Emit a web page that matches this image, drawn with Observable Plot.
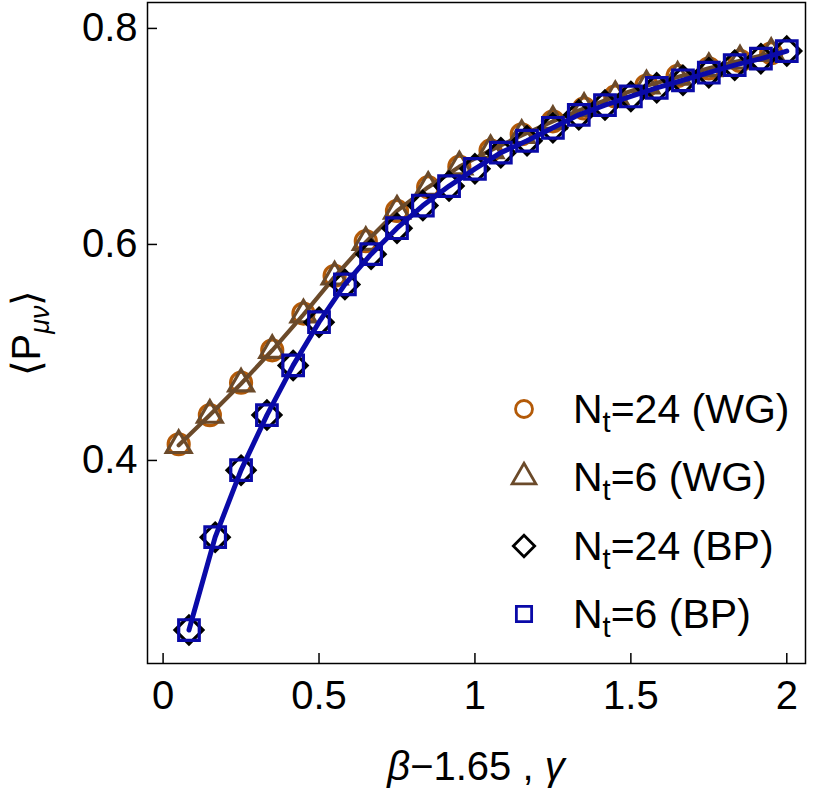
<!DOCTYPE html>
<html>
<head>
<meta charset="utf-8">
<script src="https://cdn.jsdelivr.net/npm/d3@7"></script>
<script src="https://cdn.jsdelivr.net/npm/@observablehq/plot@0.6"></script>
<style>
  html, body { margin: 0; padding: 0; background: #fff; }
  svg { font-family: "Liberation Sans", Arial, sans-serif; }
</style>
</head>
<body>
<div id="chart"></div>
<script>
// ---- data ----
const wgX = [0.05, 0.15, 0.25, 0.35, 0.45, 0.55, 0.65, 0.75, 0.85, 0.95,
             1.05, 1.15, 1.25, 1.35, 1.45, 1.55, 1.65, 1.75, 1.85, 1.95];
const wg24Y = [0.415, 0.442, 0.472, 0.502, 0.536, 0.571, 0.603, 0.631, 0.653, 0.672,
               0.687, 0.702, 0.714, 0.726, 0.737, 0.747, 0.756, 0.763, 0.770, 0.777];
const wg6Y  = [0.414, 0.442, 0.471, 0.502, 0.535, 0.570, 0.602, 0.631, 0.653, 0.672,
               0.687, 0.701, 0.714, 0.726, 0.737, 0.747, 0.755, 0.763, 0.770, 0.777];
const bpX = [0.083, 0.167, 0.25, 0.333, 0.417, 0.5, 0.583, 0.667, 0.75, 0.833, 0.917, 1.0,
             1.083, 1.167, 1.25, 1.333, 1.417, 1.5, 1.583, 1.667, 1.75, 1.833, 1.917, 2.0];
const bp24Y = [0.243, 0.329, 0.391, 0.442, 0.488, 0.528, 0.563, 0.591, 0.615, 0.636, 0.654, 0.670,
               0.685, 0.696, 0.708, 0.720, 0.729, 0.737, 0.745, 0.752, 0.759, 0.766, 0.772, 0.779];
const bp6Y  = [0.243, 0.329, 0.391, 0.442, 0.488, 0.528, 0.563, 0.591, 0.615, 0.636, 0.654, 0.670,
               0.685, 0.696, 0.708, 0.720, 0.729, 0.737, 0.745, 0.752, 0.759, 0.766, 0.772, 0.779];
const xTicks = [0, 0.5, 1, 1.5, 2];
const yTicks = [0.4, 0.6, 0.8];
const seriesNames = ["24 (WG)", "6 (WG)", "24 (BP)", "6 (BP)"];

const C_ORANGE = "#b35a08";
const C_BROWN = "#6b4a2a";
const C_BLACK = "#000000";
const C_BLUE = "#0a0aa8";

const wg24 = wgX.map((x, i) => ({x, y: wg24Y[i]}));
const wg6 = wgX.map((x, i) => ({x, y: wg6Y[i]}));
const bp24 = bpX.map((x, i) => ({x, y: bp24Y[i]}));
const bp6 = bpX.map((x, i) => ({x, y: bp6Y[i]}));

const plot = Plot.plot({
  width: 813,
  height: 797,
  marginLeft: 147,
  marginRight: 8,
  marginTop: 2,
  marginBottom: 134,
  style: {fontFamily: "'Liberation Sans', Arial, sans-serif", background: "#fff"},
  x: {domain: [-0.05, 2.06]},
  y: {domain: [0.212, 0.824]},
  marks: [
    Plot.dot(wg24, {x: "x", y: "y", symbol: "circle", r: 10.5, stroke: C_ORANGE, strokeWidth: 3.2, fill: "none"}),
    Plot.dot(wg6, {x: "x", y: "y", symbol: "triangle", r: 9.2, stroke: C_BROWN, strokeWidth: 3.2, fill: "none"}),
    Plot.line(wg6, {x: "x", y: "y", stroke: C_BROWN, strokeWidth: 4.2}),
    Plot.dot(bp24, {x: "x", y: "y", symbol: "diamond2", r: 12.6, stroke: C_BLACK, strokeWidth: 3.2, fill: "none"}),
    Plot.dot(bp6, {x: "x", y: "y", symbol: "square", r: 11.6, stroke: C_BLUE, strokeWidth: 3.2, fill: "none"}),
    Plot.line(bp6, {x: "x", y: "y", stroke: C_BLUE, strokeWidth: 5}),
    Plot.axisX(xTicks, {anchor: "bottom", tickSize: -10, tickPadding: 27, fontSize: 40, strokeWidth: 1.5, label: null, tickFormat: d3.format("")}),
    Plot.axisY(yTicks, {anchor: "left", tickSize: -10, tickPadding: 20, fontSize: 40, strokeWidth: 1.5, label: null, tickFormat: d3.format(".1f")}),
    Plot.frame({stroke: "black", strokeWidth: 1.5})
  ]
});

document.getElementById("chart").appendChild(plot);

// ---- axis labels & legend ----
const svg = d3.select(plot);
const FONT = "'Liberation Sans', Arial, sans-serif";

// x label
const xl = svg.append("text")
  .attr("x", 476).attr("y", 780)
  .attr("text-anchor", "middle")
  .attr("font-size", 40).attr("font-family", FONT).attr("fill", "black");
xl.append("tspan").attr("font-style", "italic").text("β");
xl.append("tspan").text("\u22121.65 , ");
xl.append("tspan").attr("font-style", "italic").text("γ");

// y label
const yl = svg.append("text")
  .attr("transform", "translate(40,333) rotate(-90)")
  .attr("text-anchor", "middle")
  .attr("font-size", 40).attr("font-family", FONT).attr("fill", "black");
yl.append("tspan").text("\u27E8P");
yl.append("tspan").attr("font-style", "italic").attr("font-size", 27).attr("dy", 9).text("μν");
yl.append("tspan").attr("dy", -9).text("\u27E9");

// legend
const legendRows = [
  {sym: d3.symbolCircle, size: Math.PI * 8.5 * 8.5, color: C_ORANGE, y: 409},
  {sym: d3.symbolTriangle, size: Math.PI * 8.8 * 8.8, color: C_BROWN, y: 477},
  {sym: d3.symbolDiamond2, size: Math.PI * 9.6 * 9.6, color: C_BLACK, y: 546},
  {sym: d3.symbolSquare, size: Math.PI * 8.6 * 8.6, color: C_BLUE, y: 614}
];
const lg = svg.append("g").attr("text-anchor", "start");
legendRows.forEach((row, i) => {
  lg.append("path")
    .attr("d", d3.symbol(row.sym, row.size)())
    .attr("transform", `translate(524,${row.y})`)
    .attr("fill", "none").attr("stroke", row.color).attr("stroke-width", 2.8);
  const t = lg.append("text")
    .attr("x", 573).attr("y", row.y + 14)
    .attr("text-anchor", "start")
    .attr("font-size", 41).attr("font-family", FONT).attr("fill", "black");
  t.append("tspan").text("N");
  t.append("tspan").attr("font-size", 29).attr("dy", 9).text("t");
  t.append("tspan").attr("dy", -9).text("=" + seriesNames[i]);
});
</script>
</body>
</html>
